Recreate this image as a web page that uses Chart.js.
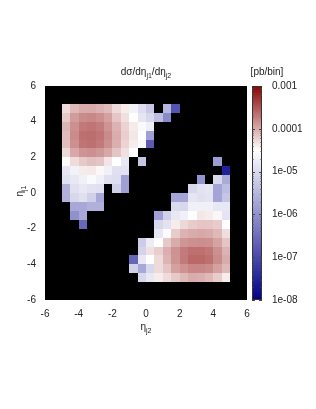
<!DOCTYPE html>
<html>
<head>
<meta charset="UTF-8">
<title>d sigma / d eta_j1 / d eta_j2</title>
<script src="https://cdn.jsdelivr.net/npm/chart.js"></script>
<style>
    html, body { margin: 0; padding: 0; background: #ffffff; }
    #wrap { width: 316px; height: 409px; }
</style>
</head>
<body>
<div id="wrap"><canvas id="heat" width="316" height="409"></canvas></div>
<script>
// bin centres (bins are 0.5 wide)
const etaJ2 = [-4.75, -4.25, -3.75, -3.25, -2.75, -2.25, -1.75, -1.25, -0.75, -0.25,
                0.25, 0.75, 1.25, 1.75, 2.25, 2.75, 3.25, 3.75, 4.25, 4.75];
const etaJ1 = [4.75, 4.25, 3.75, 3.25, 2.75, 2.25, 1.75, 1.25, 0.75, 0.25,
               -0.25, -0.75, -1.25, -1.75, -2.25, -2.75, -3.25, -3.75, -4.25, -4.75];
const binWidth = 0.5;

// log10(dsigma) in pb/bin, one row per eta_j1 bin (top to bottom), null = empty bin
const _ = null;
const row_p475 = [-4.29, -4.08, -4.01, -4.00, -4.04, -4.10, -4.28, -4.39, -4.68, -4.95, -5.25, _, -5.50, -6.85, _, _, _, _, _, _];
const row_p425 = [-4.18, -3.92, -3.82, -3.80, -3.85, -3.94, -4.16, -4.32, -4.52, -4.85, -5.04, -5.40, -6.10, _, _, _, _, _, _, _];
const row_p375 = [-4.06, -3.85, -3.71, -3.68, -3.73, -3.87, -4.05, -4.24, -4.38, -4.57, -4.72, _, _, _, _, _, _, _, _, _];
const row_p325 = [-4.10, -3.82, -3.66, -3.64, -3.68, -3.82, -4.02, -4.21, -4.36, -4.50, -5.80, _, _, _, _, _, _, _, _, _];
const row_p275 = [-4.11, -3.85, -3.68, -3.66, -3.71, -3.85, -4.03, -4.25, -4.39, -4.57, -6.75, _, _, _, _, _, _, _, _, _];
const row_p225 = [-4.27, -3.99, -3.87, -3.85, -3.89, -3.99, -4.15, -4.32, -4.50, _, _, _, _, _, _, _, _, _, _, _];
const row_p175 = [-4.47, -4.29, -4.18, -4.13, -4.15, -4.35, -4.50, -4.82, _, -5.30, _, _, _, _, _, _, _, _, -5.85, _];
const row_p125 = [-4.85, -4.68, -4.38, -4.37, -4.45, -4.71, -4.93, -4.90, _, _, _, _, _, _, _, _, _, _, _, -7.56];
const row_p075 = [-4.93, -4.82, -4.71, -4.57, -4.71, -4.93, -4.95, -5.80, _, _, _, _, _, _, _, _, -5.97, _, -5.04, -5.65];
const row_p025 = [-5.58, -4.93, -4.82, -4.90, -4.93, _, -5.15, -5.80, _, _, _, _, _, _, _, -5.04, -4.90, -4.85, -5.75, -5.40];
const row_m025 = [-5.58, -5.04, -4.93, -5.15, -5.69, _, _, _, _, _, _, _, _, -5.75, -5.75, -4.85, -4.93, -4.88, -5.75, -5.30];
const row_m075 = [_, -5.69, -5.69, -5.58, -5.58, _, _, _, _, _, _, _, _, -5.00, -5.04, -4.71, -4.71, -4.71, -4.82, -4.82];
const row_m125 = [_, -6.02, -5.69, _, _, _, _, _, _, _, _, -5.80, -5.15, -4.82, -4.71, -4.50, -4.36, -4.39, -4.45, -4.87];
const row_m175 = [_, _, -6.57, _, _, _, _, _, _, _, _, -5.04, -4.90, -4.39, -4.27, -4.20, -4.16, -4.16, -4.20, -4.50];
const row_m225 = [_, _, _, _, _, _, _, _, _, _, _, -4.82, -4.55, -4.20, -4.05, -4.01, -3.99, -4.01, -4.08, -4.30];
const row_m275 = [_, _, _, _, _, _, _, _, _, -5.20, -4.76, -4.50, -4.18, -4.01, -3.88, -3.85, -3.83, -3.85, -3.96, -4.15];
const row_m325 = [_, _, _, _, _, _, _, _, _, -5.10, -4.32, -4.21, -4.03, -3.86, -3.72, -3.66, -3.66, -3.70, -3.85, -4.05];
const row_m375 = [_, _, _, _, _, _, _, _, -6.60, -4.82, -4.50, -4.28, -4.06, -3.87, -3.71, -3.61, -3.61, -3.66, -3.82, -4.01];
const row_m425 = [_, _, _, _, _, _, _, _, -5.15, -5.69, -5.04, -4.28, -4.15, -3.94, -3.86, -3.79, -3.79, -3.82, -3.94, -4.08];
const row_m475 = [_, _, _, _, _, _, _, _, _, -5.04, -4.82, -4.39, -4.29, -4.18, -4.08, -4.01, -4.03, -4.08, -4.20, -4.39];

const rows = [row_p475, row_p425, row_p375, row_p325, row_p275, row_p225, row_p175, row_p125, row_p075, row_p025,
              row_m025, row_m075, row_m125, row_m175, row_m225, row_m275, row_m325, row_m375, row_m425, row_m475];

const axisTicks = [-6, -4, -2, 0, 2, 4, 6];
const cbTicks = [1e-3, 1e-4, 1e-5, 1e-6, 1e-7, 1e-8];
const cbLabels = ['0.001', '0.0001', '1e-05', '1e-06', '1e-07', '1e-08'];

const FONT = '"Liberation Sans", Arial, sans-serif';

// palette: dark blue at 1e-8, white at 10^-4.5, dark red at 1e-3
const cbMin = -8, cbMax = -3, cbWhite = 0.7;
const cLow = [0, 0, 139], cMid = [255, 255, 255], cHigh = [139, 0, 0];
function paletteColor(logv) {
    let t = (logv - cbMin) / (cbMax - cbMin);
    t = Math.max(0, Math.min(1, t));
    let a, b, f;
    if (t < cbWhite) { a = cLow; b = cMid; f = t / cbWhite; }
    else { a = cMid; b = cHigh; f = (t - cbWhite) / (1 - cbWhite); }
    const c = a.map((v, k) => Math.round(v + (b[k] - v) * f));
    return 'rgb(' + c.join(',') + ')';
}

// build point list
const cells = [];
rows.forEach((r, j) => {
    r.forEach((v, i) => {
        if (v !== null) cells.push({ x: etaJ2[i], y: etaJ1[j], v: v });
    });
});

// text with subscripts
function drawRich(ctx, parts, x, y, size) {
    const subSize = Math.round(size * 0.72);
    let w = 0;
    parts.forEach(p => {
        ctx.font = (p.sub ? subSize : size) + 'px ' + FONT;
        p.w = ctx.measureText(p.t).width;
        w += p.w;
    });
    let cx = x - w / 2;
    ctx.textAlign = 'left';
    ctx.textBaseline = 'alphabetic';
    parts.forEach(p => {
        ctx.font = (p.sub ? subSize : size) + 'px ' + FONT;
        ctx.fillText(p.t, cx, p.sub ? y + 3 : y);
        cx += p.w;
    });
}

const heatPlugin = {
    id: 'heatCells',
    beforeDatasetsDraw(chart) {
        const ctx = chart.ctx;
        const xs = chart.scales.x, ys = chart.scales.y;
        const a = chart.chartArea;
        ctx.save();
        ctx.fillStyle = '#000000';
        ctx.fillRect(a.left, a.top, a.right - a.left, a.bottom - a.top);
        chart.data.datasets[0].data.forEach(p => {
            const x0 = Math.round(xs.getPixelForValue(p.x - binWidth / 2));
            const x1 = Math.round(xs.getPixelForValue(p.x + binWidth / 2));
            const y0 = Math.round(ys.getPixelForValue(p.y + binWidth / 2));
            const y1 = Math.round(ys.getPixelForValue(p.y - binWidth / 2));
            ctx.fillStyle = paletteColor(p.v);
            ctx.fillRect(x0, y0, x1 - x0, y1 - y0);
        });
        ctx.strokeStyle = '#000000';
        ctx.lineWidth = 1;
        ctx.strokeRect(a.left + 0.5, a.top + 0.5, a.right - a.left - 1, a.bottom - a.top - 1);
        ctx.restore();
    },
    afterDraw(chart) {
        const ctx = chart.ctx;
        const a = chart.chartArea;
        const cb = chart.scales.cb;
        ctx.save();
        // colour box
        const bx = cb.left + 5, bw = 10;
        const top = cb.getPixelForValue(1e-3), bot = cb.getPixelForValue(1e-8);
        const g = ctx.createLinearGradient(0, bot, 0, top);
        g.addColorStop(0, paletteColor(cbMin));
        g.addColorStop(cbWhite, paletteColor(cbMin + cbWhite * (cbMax - cbMin)));
        g.addColorStop(1, paletteColor(cbMax));
        ctx.fillStyle = g;
        ctx.fillRect(bx, top, bw, bot - top);
        ctx.strokeStyle = '#333333';
        ctx.lineWidth = 1;
        ctx.strokeRect(bx + 0.5, top + 0.5, bw - 1, bot - top - 1);
        // log tics on the colour box
        ctx.strokeStyle = '#444444';
        for (let d = -8; d < -3; d++) {
            for (let m = 1; m < 10; m++) {
                const py = Math.round(cb.getPixelForValue(m * Math.pow(10, d))) + 0.5;
                const len = m === 1 ? 3 : 1.5;
                ctx.beginPath();
                ctx.moveTo(bx, py); ctx.lineTo(bx + len, py);
                ctx.moveTo(bx + bw, py); ctx.lineTo(bx + bw - len, py);
                ctx.stroke();
            }
        }
        // texts
        ctx.fillStyle = '#222222';
        drawRich(ctx, [{ t: 'd\u03c3/d\u03b7' }, { t: 'j1', sub: true }, { t: '/d\u03b7' }, { t: 'j2', sub: true }],
                 (a.left + a.right) / 2, 75, 10);
        ctx.font = '10px ' + FONT;
        ctx.textAlign = 'center';
        ctx.fillText('[pb/bin]', bx + 15, 75);
        drawRich(ctx, [{ t: '\u03b7' }, { t: 'j2', sub: true }], (a.left + a.right) / 2, 330, 10);
        ctx.translate(23, (a.top + a.bottom) / 2 - 2);
        ctx.rotate(-Math.PI / 2);
        drawRich(ctx, [{ t: '\u03b7' }, { t: 'j1', sub: true }], 0, 0, 10);
        ctx.restore();
    }
};

const tickFont = { family: FONT, size: 10 };

new Chart(document.getElementById('heat'), {
    type: 'scatter',
    data: {
        datasets: [{
            data: cells,
            pointRadius: 0,
            pointHoverRadius: 0
        }]
    },
    options: {
        responsive: false,
        animation: false,
        events: [],
        layout: { padding: { top: 86, bottom: 69, left: 0, right: 0 } },
        plugins: { legend: { display: false }, tooltip: { enabled: false }, title: { display: false } },
        scales: {
            x: {
                type: 'linear', min: -6, max: 6,
                grid: { display: false, drawTicks: false },
                border: { display: false },
                afterBuildTicks: s => { s.ticks = axisTicks.map(v => ({ value: v })); },
                ticks: { font: tickFont, color: '#222222', padding: 8, maxRotation: 0 },
                afterFit: s => { s.height = 40; }
            },
            y: {
                type: 'linear', min: -6, max: 6,
                grid: { display: false, drawTicks: false },
                border: { display: false },
                afterBuildTicks: s => { s.ticks = axisTicks.map(v => ({ value: v })); },
                ticks: { font: tickFont, color: '#222222', padding: 9 },
                afterFit: s => { s.width = 45; }
            },
            cb: {
                type: 'logarithmic', position: 'right', min: 1e-8, max: 1e-3,
                grid: { display: false, drawTicks: false },
                border: { display: false },
                afterBuildTicks: s => { s.ticks = cbTicks.map(v => ({ value: v })); },
                ticks: {
                    font: tickFont, color: '#222222', padding: 25,
                    callback: v => {
                        const k = cbTicks.findIndex(t => Math.abs(Math.log10(t) - Math.log10(v)) < 1e-6);
                        return k >= 0 ? cbLabels[k] : '';
                    }
                },
                afterFit: s => { s.width = 69; }
            }
        }
    },
    plugins: [heatPlugin]
});
</script>
</body>
</html>
